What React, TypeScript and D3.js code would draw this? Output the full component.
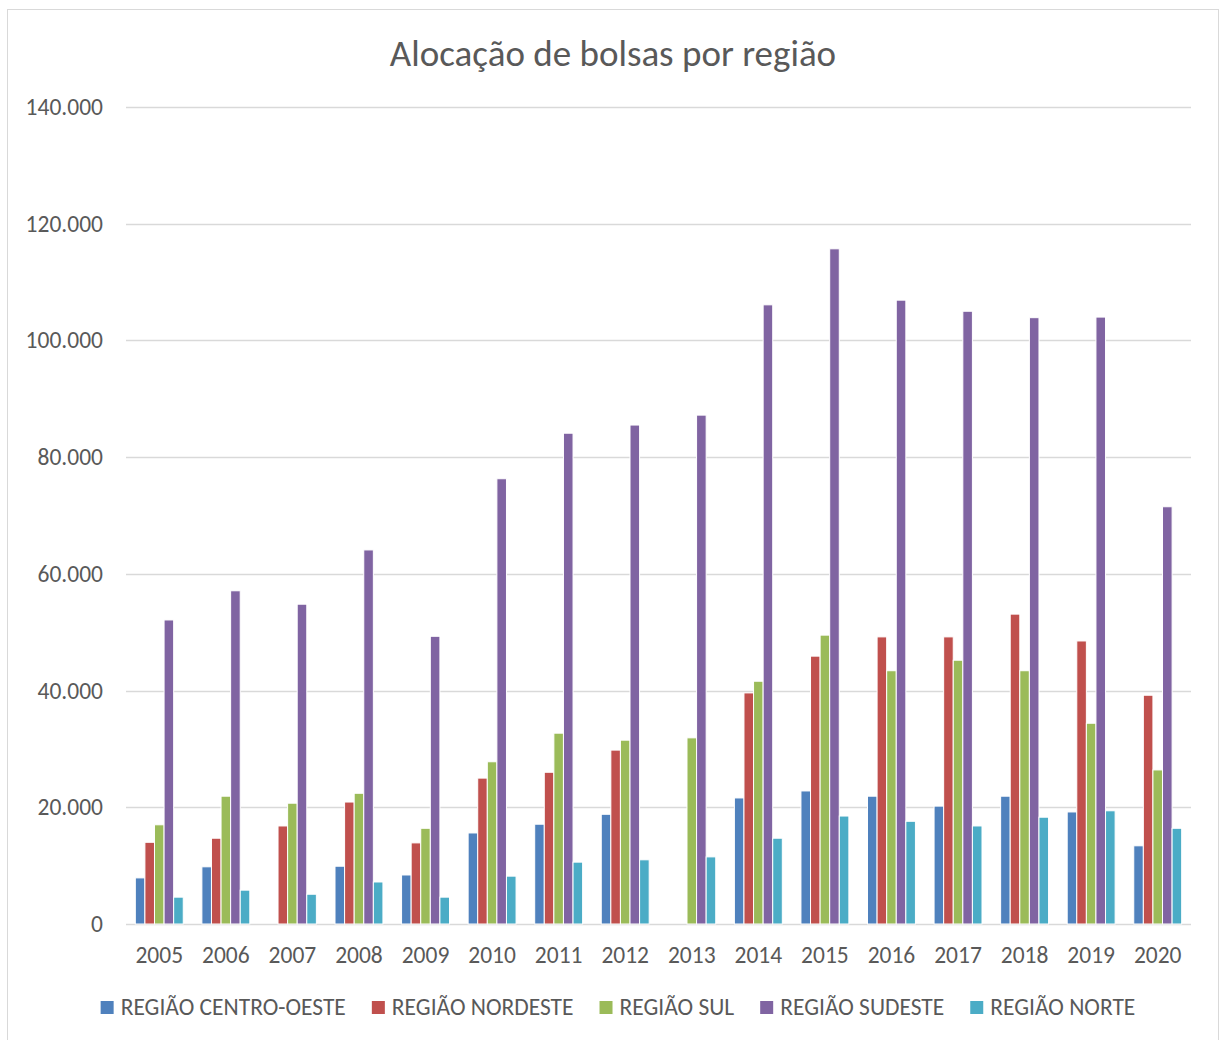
import React, { useEffect, useRef } from "react";
import * as d3 from "d3";

const years = ["2005", "2006", "2007", "2008", "2009", "2010", "2011", "2012", "2013", "2014", "2015", "2016", "2017", "2018", "2019", "2020"];
const seriesNames = ["REGIÃO CENTRO-OESTE", "REGIÃO NORDESTE", "REGIÃO SUL", "REGIÃO SUDESTE", "REGIÃO NORTE"];
const seriesColors = ["#4f81bd", "#c0504d", "#9bbb59", "#8064a2", "#4bacc6"];

const centroOeste = [7900, 9800, 0, 9900, 8400, 15600, 17100, 18800, 0, 21600, 22800, 21900, 20200, 21900, 19200, 13400];
const nordeste = [14000, 14700, 16800, 20900, 13900, 25000, 26000, 29800, 0, 39600, 45900, 49200, 49200, 53100, 48500, 39200];
const sul = [17000, 21900, 20700, 22400, 16400, 27800, 32700, 31500, 31900, 41600, 49500, 43400, 45200, 43400, 34400, 26400];
const sudeste = [52100, 57100, 54800, 64100, 49300, 76300, 84100, 85500, 87200, 106100, 115700, 106900, 105000, 103900, 104000, 71500];
const norte = [4600, 5800, 5100, 7200, 4600, 8200, 10600, 11000, 11500, 14700, 18500, 17600, 16800, 18300, 19400, 16400];

const yTicks = [0, 20000, 40000, 60000, 80000, 100000, 120000, 140000];

const font = "Carlito, Calibri, Lato, sans-serif";
const textColor = "#595959";

export default function App() {
  const ref = useRef<SVGSVGElement>(null);

  useEffect(() => {
    const svg = d3.select(ref.current);
    svg.selectAll("*").remove();

    const W = 1221, H = 1040;
    const left = 126, right = 1191, top = 107, bottom = 924;

    const allSeries = [centroOeste, nordeste, sul, sudeste, norte];
    const data = years.map((y, i) => ({ year: y, values: allSeries.map((s) => s[i]) }));

    const fmt = d3.formatLocale({ decimal: ",", thousands: ".", grouping: [3], currency: ["", ""] }).format(",d");

    svg.append("rect").attr("width", W).attr("height", H).attr("fill", "#fff");
    svg
      .append("rect")
      .attr("x", 7.5)
      .attr("y", 9.5)
      .attr("width", 1211)
      .attr("height", 1100)
      .attr("fill", "none")
      .attr("stroke", "#d9d9d9");

    svg
      .append("text")
      .attr("x", 613)
      .attr("y", 66)
      .attr("text-anchor", "middle")
      .attr("font-family", font)
      .attr("font-size", 37)
      .attr("fill", textColor)
      .text("Alocação de bolsas por região");

    const y = d3.scaleLinear().domain([0, 140000]).range([bottom, top]);
    const x0 = d3.scaleBand().domain(years).range([left, right]).paddingInner(0.28).paddingOuter(0.14);
    const x1 = d3.scaleBand().domain(seriesNames).range([0, x0.bandwidth()]).padding(0);

    // grid
    svg
      .append("g")
      .selectAll("line")
      .data(yTicks)
      .join("line")
      .attr("x1", left)
      .attr("x2", right)
      .attr("y1", (d) => Math.round(y(d)) + 0.5)
      .attr("y2", (d) => Math.round(y(d)) + 0.5)
      .attr("stroke", "#d9d9d9")
      .attr("stroke-width", 1.5);

    svg
      .append("g")
      .selectAll("text")
      .data(yTicks)
      .join("text")
      .attr("x", 103)
      .attr("y", (d) => y(d) + 8)
      .attr("text-anchor", "end")
      .attr("font-family", font)
      .attr("font-size", 23.5)
      .attr("fill", textColor)
      .text((d) => fmt(d));

    // bars
    const groups = svg
      .append("g")
      .selectAll("g")
      .data(data)
      .join("g")
      .attr("transform", (d) => `translate(${x0(d.year)},0)`);

    groups
      .selectAll("rect")
      .data((d) => d.values.map((v, i) => ({ v, i })))
      .join("rect")
      .filter((d) => d.v > 0)
      .attr("x", (d) => x1(seriesNames[d.i])!)
      .attr("y", (d) => y(d.v))
      .attr("width", x1.bandwidth())
      .attr("height", (d) => bottom - y(d.v))
      .attr("fill", (d) => seriesColors[d.i])
      .attr("stroke", "#fff")
      .attr("stroke-width", 1);

    svg
      .append("g")
      .selectAll("text")
      .data(years)
      .join("text")
      .attr("x", (d) => x0(d)! + x0.bandwidth() / 2)
      .attr("y", 963)
      .attr("text-anchor", "middle")
      .attr("font-family", font)
      .attr("font-size", 23.5)
      .attr("fill", textColor)
      .text((d) => d);

    // legend
    const legend = svg.append("g");
    const items = legend
      .selectAll("g")
      .data(seriesNames)
      .join("g");
    items
      .append("rect")
      .attr("width", 13)
      .attr("height", 13)
      .attr("y", 1001)
      .attr("fill", (d, i) => seriesColors[i]);
    const labels = items
      .append("text")
      .attr("x", 20)
      .attr("y", 1015)
      .attr("font-family", font)
      .attr("font-size", 23.5)
      .attr("fill", textColor)
      .text((d) => d);

    const widths: number[] = [];
    labels.each(function () {
      widths.push((this as SVGTextElement).getComputedTextLength());
    });
    const gap = 26;
    const total = d3.sum(widths, (w) => 20 + w) + gap * (widths.length - 1);
    let cx = 618 - total / 2;
    items.attr("transform", (d, i) => {
      const t = `translate(${cx},0)`;
      cx += 20 + widths[i] + gap;
      return t;
    });
  }, []);

  return (
    <svg
      ref={ref}
      width={1221}
      height={1040}
      style={{ position: "absolute", left: 0, top: 0 }}
    ></svg>
  );
}
